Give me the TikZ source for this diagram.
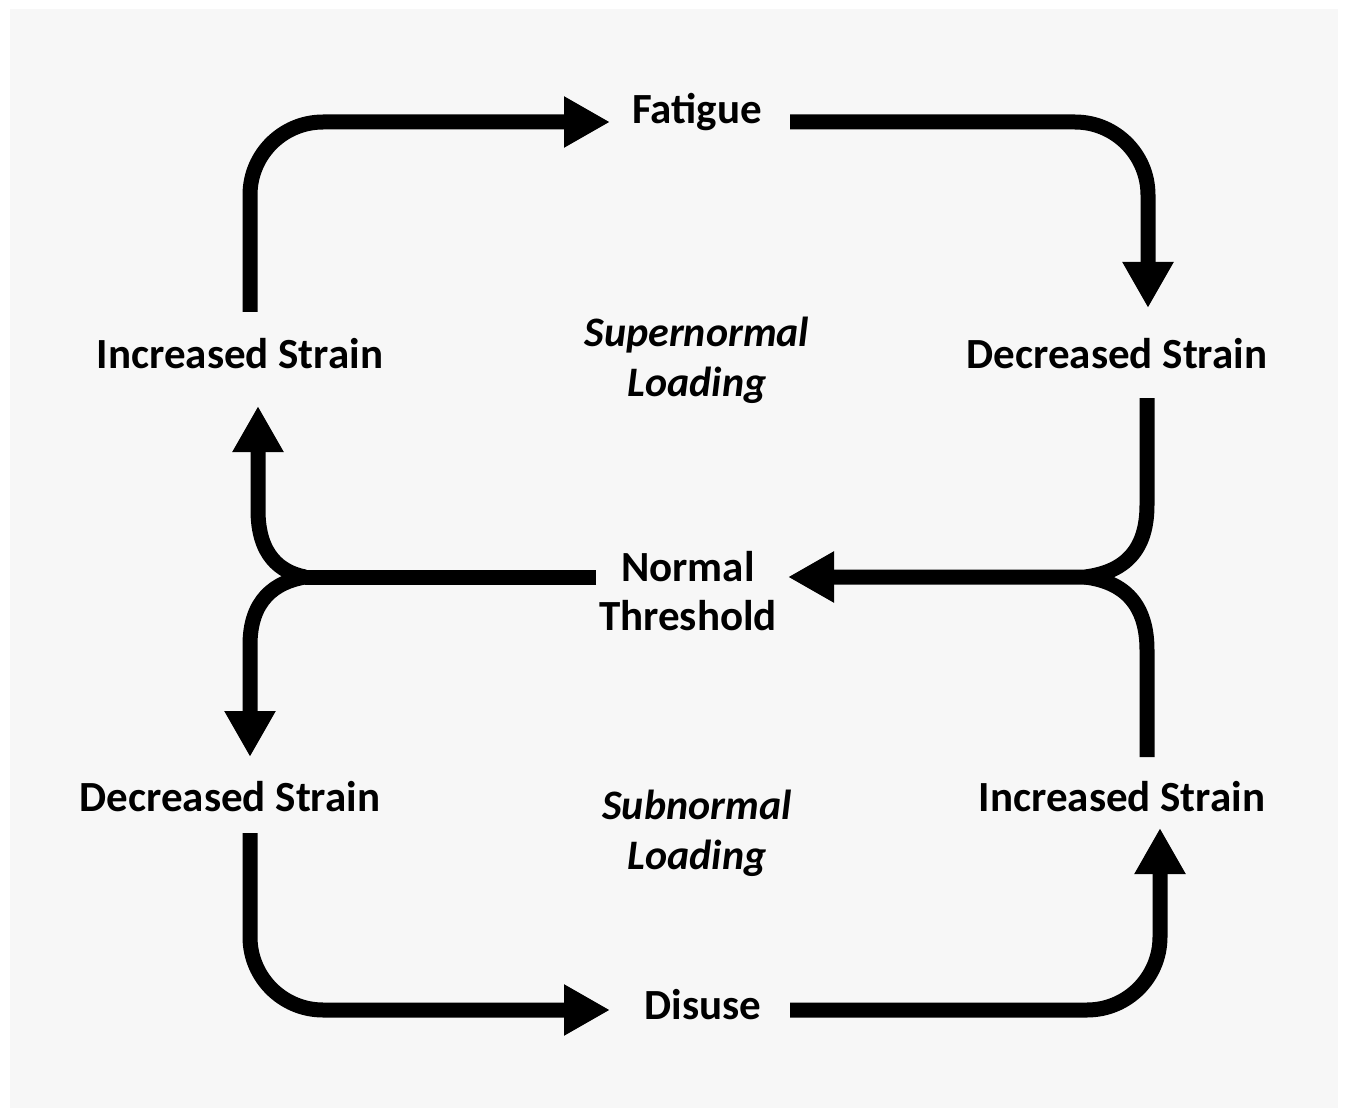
\documentclass[tikz,border=0pt]{standalone}
\usepackage{fontspec}
\setmainfont{Carlito}
\usetikzlibrary{arrows.meta}
\definecolor{bg}{HTML}{F7F7F7}
\tikzset{
  lbl/.style={font=\bfseries\fontsize{43}{49}\selectfont, inner sep=0pt, align=center},
  ilbl/.style={font=\bfseries\itshape\fontsize{42}{50}\selectfont, inner sep=0pt, align=center},
  flow/.style={line width=15pt, draw=black, line cap=butt},
  tip/.style={-{Triangle[length=46pt,width=48pt]}},
}
\begin{document}
\begin{tikzpicture}[x=1pt,y=-1pt]
\useasboundingbox (0,0) rectangle (1345,1110);
\fill[white] (0,0) rectangle (1345,1110);
\fill[bg] (10,9) rectangle (1338,1108);

% labels
\node[lbl] (fat) at (697,112) {Fatigue};
\node[lbl] (isl) at (240,354) {Increased Strain};
\node[lbl] (dsr) at (1117,354) {Decreased Strain};
\node[ilbl] (sup) at (697,360) {Supernormal\\Loading};
\node[lbl] (nt) at (688,591) {Normal\\Threshold};
\node[lbl] (dsl) at (230,797) {Decreased Strain};
\node[lbl] (isr) at (1122,797) {Increased Strain};
\node[ilbl] (sub) at (697,833) {Subnormal\\Loading};
\node[lbl] (dis) at (703,1005) {Disuse};

% junction points and path ends
\coordinate (jl) at (305,577);
\coordinate (jr) at (1085,577);
\coordinate (a1) at (250,312);
\coordinate (a1t) at (610,122);
\coordinate (a2) at (790,122);
\coordinate (a2t) at (1148,308);
\coordinate (a3) at (1147,398);
\coordinate (a3t) at (788,577);
\coordinate (a4) at (1147,757);
\coordinate (a5) at (596,577);
\coordinate (a5u) at (258,406);
\coordinate (a5d) at (250,757);
\coordinate (a6) at (250,833);
\coordinate (a6t) at (610,1010);
\coordinate (a7) at (790,1010);
\coordinate (a7t) at (1160,828);

% top loop
\draw[flow,tip,rounded corners=73pt] (a1) |- (a1t);
\draw[flow,tip,rounded corners=73pt] (a2) -| (a2t);
\draw[flow,tip] (a3) -- (1147,505) .. controls (1147,550) and (1125,572) .. (jr) -- (a3t);
\draw[flow] (a4) -- (1147,650) .. controls (1147,605) and (1125,582) .. (jr);

% left junction
\draw[flow] (a5) -- (jl);
\draw[flow,tip] (jl) .. controls (280,572) and (258,555) .. (258,510) -- (a5u);
\draw[flow,tip] (jl) .. controls (275,582) and (250,600) .. (250,645) -- (a5d);

% bottom loop
\draw[flow,tip,rounded corners=73pt] (a6) |- (a6t);
\draw[flow,tip,rounded corners=73pt] (a7) -| (a7t);
\end{tikzpicture}
\end{document}
